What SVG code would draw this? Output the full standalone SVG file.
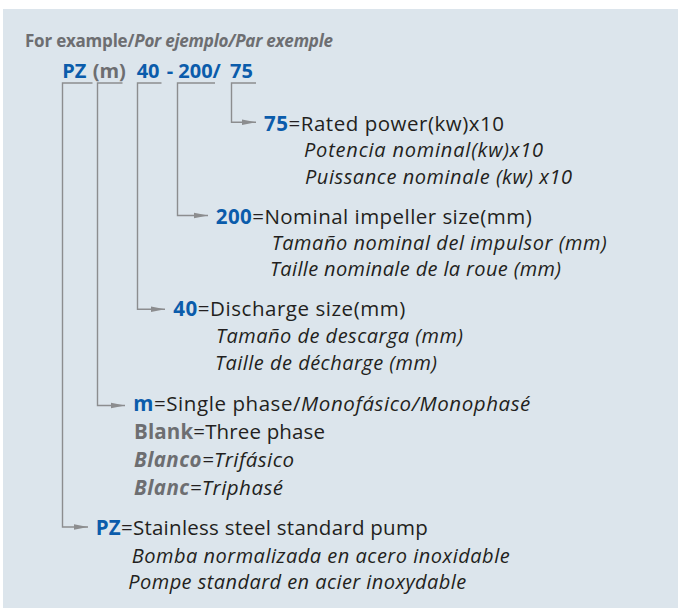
<svg xmlns="http://www.w3.org/2000/svg" width="678" height="608" viewBox="0 0 678 608">
<defs>
<style>
text{font-family:"Open Sans","Liberation Sans",sans-serif;fill:#231f20}
.t{font-size:17px;font-weight:bold;fill:#6d6e71}
.code{font-size:20px;font-weight:bold;fill:#0b5cab}
.g{fill:#6d6e71}
.b{fill:#0b5cab;font-weight:bold}
.main{font-size:20.5px}
.it{font-size:20px;font-style:italic}
.i{font-style:italic}
.gb{fill:#6d6e71;font-weight:bold}
.conn{fill:none;stroke:#8c8d8f;stroke-width:1.4}
</style>
<marker id="arr" markerUnits="userSpaceOnUse" markerWidth="16" markerHeight="8" refX="14" refY="4" orient="auto">
<path d="M0,1.2 L14,4 L0,6.8 Z" fill="#8c8d8f"/>
</marker>
</defs>
<rect x="3" y="9" width="675" height="599" fill="#dce5ec"/>
<g id="title">
<text class="t" x="25" y="46.7" textLength="308">For example/<tspan font-style="italic">Por ejemplo/Par exemple</tspan></text>
</g>
<g id="code">
<text class="code" x="62.3" y="77.5">PZ</text>
<text class="code g" x="92.7" y="77.5">(m)</text>
<text class="code" x="136.7" y="77.5">40</text>
<text class="code" x="166.7" y="77.5">-</text>
<text class="code" x="178.3" y="77.5">200/</text>
<text class="code" x="230" y="77.5">75</text>
</g>
<g id="connectors">
<path class="conn" d="M256,83 H231.5 V122.3 H256" marker-end="url(#arr)"/>
<path class="conn" d="M215,83 H177.5 V215.5 H208" marker-end="url(#arr)"/>
<path class="conn" d="M161.5,83 H137.5 V309.3 H165" marker-end="url(#arr)"/>
<path class="conn" d="M122.5,83 H97.5 V405.5 H125" marker-end="url(#arr)"/>
<path class="conn" d="M92.5,83 H62.5 V527 H88" marker-end="url(#arr)"/>
</g>
<g id="node-75">
<text class="main" x="264" y="131" textLength="240"><tspan class="b">75</tspan>=Rated power(kw)x10</text>
<text class="it" x="304" y="157" textLength="239">Potencia nominal(kw)x10</text>
<text class="it" x="305" y="183.5" textLength="267">Puissance nominale (kw) x10</text>
</g>
<g id="node-200">
<text class="main" x="215.7" y="224" textLength="316"><tspan class="b">200</tspan>=Nominal impeller size(mm)</text>
<text class="it" x="271.7" y="250" textLength="335">Tamaño nominal del impulsor (mm)</text>
<text class="it" x="270" y="276" textLength="291">Taille nominale de la roue (mm)</text>
</g>
<g id="node-40">
<text class="main" x="173.3" y="316" textLength="232"><tspan class="b">40</tspan>=Discharge size(mm)</text>
<text class="it" x="216" y="342.8" textLength="247">Tamaño de descarga (mm)</text>
<text class="it" x="215" y="369.5" textLength="222">Taille de décharge (mm)</text>
</g>
<g id="node-m">
<text class="main" x="133.3" y="411" textLength="397"><tspan class="b">m</tspan>=Single phase/<tspan class="i">Monofásico/Monophasé</tspan></text>
<text class="main" x="134" y="439" textLength="191"><tspan class="gb">Blank</tspan>=Three phase</text>
<text class="main i" x="134" y="467" textLength="160"><tspan class="gb">Blanco</tspan>=Trifásico</text>
<text class="main i" x="134" y="495" textLength="149"><tspan class="gb">Blanc</tspan>=Triphasé</text>
</g>
<g id="node-pz">
<text class="main" x="95.7" y="535" textLength="332"><tspan class="b">PZ</tspan>=Stainless steel standard pump</text>
<text class="it" x="131.7" y="562.7" textLength="378">Bomba normalizada en acero inoxidable</text>
<text class="it" x="128.3" y="589.3" textLength="338">Pompe standard en acier inoxydable</text>
</g>
</svg>
